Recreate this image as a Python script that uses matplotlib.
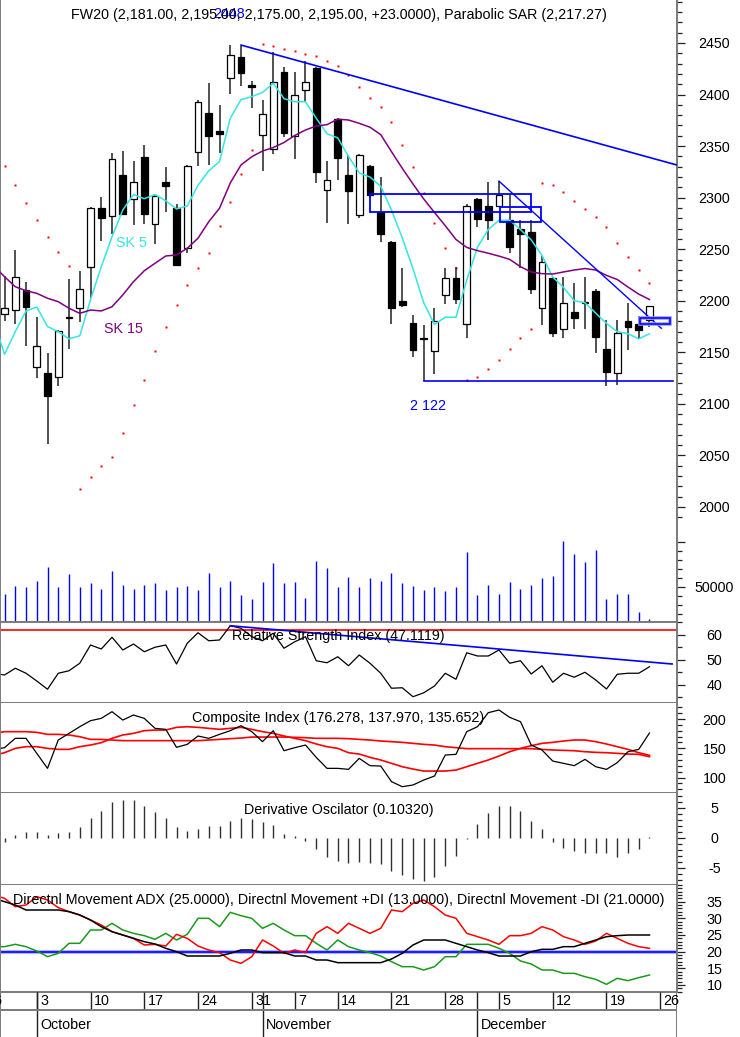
"""FW20 daily chart with SAR, moving averages and four indicator panels."""

import matplotlib

matplotlib.use("Agg")
import matplotlib.pyplot as plt
import numpy as np
from matplotlib.patches import Rectangle

plt.rcParams["font.family"] = ["Liberation Sans", "DejaVu Sans"]
plt.rcParams["font.size"] = 10.3
plt.rcParams["axes.unicode_minus"] = False

# daily candles, 28 Sep - 23 Dec 2022 (trading sessions only)
opens = [2187, 2191, 2210, 2136, 2130, 2126, 2183, 2193, 2233, 2290,
         2282, 2322, 2299, 2339, 2274, 2315, 2290, 2251, 2344, 2382,
         2365, 2416, 2436, 2409, 2361, 2347, 2422, 2360, 2404, 2426,
         2307, 2376, 2322, 2283, 2331, 2286, 2257, 2200, 2178, 2163,
         2151, 2206, 2222, 2177, 2299, 2292, 2292, 2278, 2270, 2267,
         2193, 2222, 2173, 2189, 2198, 2209, 2153, 2130, 2180, 2177,
         2181]
highs = [2224, 2249, 2218, 2184, 2149, 2172, 2221, 2229, 2291, 2301,
         2343, 2345, 2336, 2351, 2303, 2330, 2294, 2332, 2395, 2411,
         2390, 2448, 2447, 2413, 2395, 2441, 2427, 2422, 2433, 2427,
         2336, 2377, 2341, 2342, 2332, 2320, 2258, 2232, 2186, 2176,
         2193, 2232, 2233, 2294, 2300, 2315, 2316, 2303, 2278, 2278,
         2243, 2223, 2223, 2217, 2223, 2211, 2181, 2181, 2198, 2185,
         2195]
lows = [2180, 2177, 2156, 2125, 2061, 2117, 2153, 2179, 2203, 2258,
        2265, 2283, 2273, 2274, 2255, 2286, 2234, 2246, 2331, 2332,
        2343, 2401, 2408, 2387, 2326, 2342, 2359, 2337, 2393, 2314,
        2275, 2317, 2274, 2280, 2300, 2257, 2177, 2194, 2145, 2122,
        2129, 2197, 2197, 2164, 2272, 2259, 2291, 2246, 2232, 2207,
        2176, 2165, 2164, 2173, 2173, 2149, 2117, 2118, 2152, 2163,
        2175]
closes = [2193, 2223, 2194, 2156, 2108, 2171, 2183, 2211, 2290, 2280,
          2337, 2284, 2315, 2284, 2302, 2311, 2235, 2331, 2393, 2360,
          2362, 2438, 2421, 2407, 2381, 2412, 2363, 2400, 2412, 2325,
          2317, 2338, 2306, 2341, 2303, 2265, 2193, 2196, 2152, 2163,
          2180, 2222, 2202, 2292, 2279, 2278, 2303, 2252, 2265, 2211,
          2238, 2169, 2198, 2183, 2199, 2165, 2131, 2169, 2175, 2172,
          2195]
volume = [41800, 50800, 49300, 56400, 72400, 49300, 63800, 49300, 53800, 47400,
          67900, 51900, 47400, 51900, 53800, 46300, 49300, 50800, 46300, 65000,
          49300, 56400, 40700, 36200, 54900, 76900, 53800, 54900, 37700, 78800,
          71300, 49300, 60900, 49300, 59400, 56400, 65700, 53800, 50800, 46300,
          49300, 45200, 49300, 88400, 40700, 51900, 41800, 54900, 47400, 51900,
          59400, 62300, 101500, 86600, 78000, 91000, 36200, 41800, 41800, 22000,
          13500]
sar = [2331, 2312, 2294.5, 2278, 2261.5, 2247.6, 2233.7, 2017, 2029, 2040,
       2048, 2071.4, 2098.9, 2123.1, 2151, 2174.8, 2196.2, 2215, 2231.8, 2246.6,
       2272.8, 2295.8, 2322.9, 2346.2, 2449.3, 2447, 2444.2, 2442, 2439.3, 2437.7,
       2432.8, 2428, 2419, 2407.6, 2396.4, 2387.6, 2373.7, 2351.1, 2330, 2304.8,
       2275.7, 2251, 2232.2, 2123.6, 2125.8, 2133.4, 2143, 2153.5, 2164.3, 2172.4,
       2314.4, 2311.8, 2305.3, 2296.9, 2289.1, 2281.2, 2271.5, 2256.2, 2242.2, 2229.9,
       2217.27]

# line series carry one extra leading session (off the left edge)
sk5 = [2181,
       2148, 2170, 2190, 2194, 2175, 2170, 2163, 2166, 2201, 2233,
       2262, 2288, 2303, 2299, 2303, 2297, 2289, 2292, 2312, 2326,
       2335, 2377, 2395, 2398, 2402, 2411, 2396, 2393, 2393, 2377,
       2362, 2358, 2340, 2324, 2320, 2311, 2288, 2261, 2231, 2198,
       2177, 2184, 2184, 2220, 2252, 2269, 2278, 2278, 2269, 2259,
       2244, 2223, 2213, 2200, 2198, 2188, 2178, 2170, 2168, 2163,
       2168]
sk15 = [2234,
        2223.3, 2213.6, 2209.7, 2207.2, 2202.4, 2199.1, 2192.7, 2187.8, 2191.0, 2190.1,
        2194.2, 2205.6, 2218.5, 2229.1, 2236.3, 2243.4, 2244.4, 2250.9, 2260.6, 2276.7,
        2289.7, 2314.2, 2331.7, 2339.7, 2345.2, 2348.6, 2353.5, 2360.3, 2365.6, 2369.5,
        2370.8, 2376.1, 2375.3, 2372.1, 2368.3, 2361.1, 2344.6, 2328.5, 2313.2, 2298.7,
        2285.6, 2272.8, 2259.4, 2251.7, 2248.6, 2246.1, 2243.3, 2240.1, 2233.0, 2227.9,
        2226.3, 2225.9, 2227.9, 2229.8, 2231.2, 2229.8, 2224.6, 2220.6, 2213.3, 2206.4,
        2201.2]
rsi = [44.5,
       43.8, 46.5, 44.5, 41.4, 38.1, 44.5, 45.5, 48.5, 55.8, 54.2,
       58.9, 53.8, 56.2, 53.1, 54.9, 55.8, 48.2, 56.5, 60.7, 57.5,
       57.8, 63.5, 62.5, 59.1, 57.5, 60.5, 54.5, 57.1, 59.1, 49.5,
       48.7, 51.1, 47.5, 51.8, 48.5, 44.5, 38.5, 38.7, 35.1, 36.7,
       39.4, 44.5, 42.1, 52.7, 51.4, 51.4, 53.8, 48.5, 49.5, 44.2,
       47.5, 40.9, 44.5, 42.9, 44.9, 41.8, 38.2, 44.1, 44.5, 44.5,
       47.1119]
ci = [148.0,
      151.1, 167.1, 167.1, 141.4, 115.7, 164.2, 175.6, 187.0, 197.3, 201.3,
      212.7, 198.4, 207.0, 201.3, 184.2, 182.5, 151.7, 156.8, 171.1, 167.1,
      173.9, 180.2, 188.7, 178.5, 161.4, 180.2, 145.9, 151.1, 155.6, 134.5,
      115.7, 115.7, 114.0, 132.8, 120.3, 119.7, 92.9, 84.3, 87.2, 95.7,
      102.6, 138.5, 139.7, 178.5, 187.0, 211.0, 215.6, 203.0, 195.6, 155.6,
      147.1, 128.2, 124.3, 120.3, 131.1, 118.5, 114.0, 125.4, 144.2, 148.2,
      176.278]
ci_fast = [138.0,
           142.5, 149.9, 152.8, 152.8, 149.9, 148.2, 148.2, 152.8, 155.6, 159.6,
           167.1, 172.8, 175.6, 180.2, 181.3, 181.3, 185.9, 187.0, 185.9, 184.2,
           182.5, 184.2, 185.9, 182.5, 178.5, 175.6, 171.1, 167.1, 163.1, 157.4,
           152.8, 149.9, 142.5, 140.2, 134.5, 130.0, 124.3, 118.5, 114.5, 111.1,
           111.1, 111.1, 112.8, 118.5, 124.3, 130.0, 136.8, 144.2, 149.9, 154.5,
           158.5, 160.2, 162.5, 164.2, 164.2, 161.4, 157.4, 152.8, 148.2, 142.5,
           137.970]
ci_slow = [175.0,
           178.5, 178.5, 178.5, 177.3, 173.9, 173.9, 172.8, 169.9, 165.3, 165.3,
           164.2, 163.1, 163.1, 163.1, 163.1, 163.1, 163.1, 163.1, 163.1, 164.2,
           165.3, 166.5, 167.6, 169.3, 169.3, 169.3, 169.3, 168.8, 168.2, 167.1,
           167.1, 167.1, 166.5, 165.3, 164.2, 162.5, 161.4, 160.2, 158.5, 156.8,
           155.6, 152.8, 151.1, 149.4, 149.4, 149.4, 149.4, 149.4, 149.4, 149.4,
           148.2, 147.1, 146.5, 145.9, 144.2, 143.1, 142.5, 141.4, 140.2, 139.7,
           135.652]
deriv_osc = [-0.8, 0.4, 1.0, 1.0, 0.4, 0.7, 1.0, 1.7, 3.2, 4.5,
             6.0, 6.3, 6.2, 5.2, 4.3, 3.2, 1.7, 1.1, 1.4, 1.9,
             1.9, 2.8, 3.2, 3.1, 2.6, 2.1, 0.6, 0.2, -0.5, -1.9,
             -3.2, -3.9, -4.2, -4.0, -4.2, -4.4, -5.5, -6.2, -6.9, -7.2,
             -6.5, -4.8, -3.1, -0.2, 2.3, 4.1, 5.3, 5.2, 4.5, 2.7,
             1.4, -0.7, -1.8, -2.3, -2.5, -2.5, -2.6, -3.2, -2.5, -1.9,
             0.1032]
adx = [36.0,
       35.0, 34.0, 32.5, 32.5, 32.5, 32.5, 32.0, 31.0, 29.5, 27.5,
       26.0, 25.0, 24.0, 23.0, 22.3, 21.0, 20.0, 18.7, 18.7, 18.7,
       18.7, 19.5, 20.5, 20.5, 19.7, 19.7, 19.7, 18.7, 18.7, 17.5,
       17.5, 16.7, 16.7, 16.7, 16.7, 16.7, 17.8, 19.5, 22.0, 23.5,
       23.5, 23.5, 22.5, 21.5, 20.5, 19.7, 18.7, 18.7, 18.7, 20.0,
       20.7, 20.7, 21.5, 21.5, 22.5, 23.5, 24.5, 24.8, 25.0, 25.0,
       25.0]
plus_di = [21.5,
           21.5, 22.2, 21.5, 20.2, 18.5, 19.5, 22.5, 22.5, 26.5, 26.5,
           28.5, 26.5, 25.5, 24.8, 23.7, 25.5, 23.5, 25.2, 30.0, 30.0,
           27.5, 31.8, 30.8, 30.0, 27.0, 28.5, 26.5, 24.8, 24.8, 22.5,
           20.5, 23.5, 21.5, 20.5, 19.7, 18.7, 17.0, 15.5, 15.5, 14.5,
           15.5, 18.5, 18.5, 22.2, 22.2, 22.2, 21.0, 19.5, 17.2, 16.3,
           14.5, 14.5, 13.5, 13.5, 12.5, 11.7, 10.2, 12.0, 11.3, 12.2,
           13.0]
minus_di = [37.0,
            36.0, 33.5, 34.0, 36.5, 35.5, 33.2, 32.0, 31.0, 29.5, 28.0,
            26.0, 25.0, 24.0, 22.0, 22.2, 21.7, 25.2, 24.0, 21.7, 20.5,
            19.7, 17.5, 16.5, 18.5, 23.5, 21.7, 19.5, 20.5, 19.7, 25.5,
            27.5, 25.5, 28.5, 27.0, 25.5, 27.0, 32.5, 32.0, 34.5, 35.5,
            33.5, 31.0, 30.0, 25.5, 24.5, 23.5, 22.2, 24.8, 24.8, 25.5,
            27.5, 26.5, 24.5, 23.5, 22.2, 23.2, 25.5, 24.0, 22.5, 21.5,
            21.0]

week_ticks = [-2, 3, 8, 13, 18, 23, 27, 31, 36, 41, 46, 51, 56, 61]
week_labels = ["26", "3", "10", "17", "24", "31", "7", "14", "21", "28", "5", "12", "19", "26"]
month_starts = [3, 24, 44]
month_names = ["October", "November", "December"]

# hand-drawn annotations (session index, price)
resistance_line = ([22, 62.6], [2448, 2331.5])
support_line = ([39, 62.2], [2122, 2122])
short_trend = ([46, 61.1], [2316, 2173.3])
zones = [(34.0, 49.0, 2286.4, 2303.5), (46.05, 49.93, 2276.6, 2291.1)]
last_zone = (59.1, 61.9, 2177.0, 2183.6)
rsi_trend = ([21, 62.1], [63.5, 48.2])
rsi_level = 61.8
dmi_level = 20

W, H = 740, 1037
AX_RIGHT = 677
XMIN, XMAX = -0.42, 62.56
FRAME = "#7a7a7a"
TICK = "#202020"
BLUE = "#0000ff"


def add_panel(fig, top, bottom):
    ax = fig.add_axes([0, (H - bottom) / H, AX_RIGHT / W, (bottom - top) / H])
    ax.set_xlim(XMIN, XMAX)
    ax.set_xticks([])
    ax.spines["top"].set_visible(False)
    for side in ("left", "right", "bottom"):
        ax.spines[side].set_color(FRAME)
        ax.spines[side].set_linewidth(1.4)
    return ax


def right_scale(ax, major, minor, labels=None):
    ax.yaxis.tick_right()
    ax.set_yticks(major)
    ax.set_yticks(minor, minor=True)
    if labels is not None:
        ax.set_yticklabels(labels)
    ax.tick_params(axis="y", which="major", length=6, width=0.9, pad=21, color=TICK)
    ax.tick_params(axis="y", which="minor", length=3.5, width=0.9, color=TICK)
    for lab in ax.get_yticklabels():
        lab.set_horizontalalignment("center")


def panel_label(ax, text, top_px, bottom_px, offset=15):
    ax.text(0.5, 1 - offset / (bottom_px - top_px), text, transform=ax.transAxes,
            ha="center", va="center", zorder=6)


def main():
    fig = plt.figure(figsize=(W / 100, H / 100), dpi=100)
    x = np.arange(len(closes))
    xl = np.arange(-1, len(closes))

    # ---- price + volume
    ax = add_panel(fig, 0, 622)
    ax.set_ylim(1888.4, 2491.7)
    vol_ax = ax.twinx()
    vol_lo = 10500
    vol_ax.set_ylim(vol_lo, 706300)
    for s in vol_ax.spines.values():
        s.set_visible(False)
    vol_ax.vlines(x, vol_lo, volume, color=BLUE, lw=1.0)
    right_scale(vol_ax, [50000, 100000], np.arange(20000, 100000, 10000), ["50000", ""])
    right_scale(ax, np.arange(2000, 2451, 50), np.arange(1990, 2491, 10))
    ax.set_zorder(vol_ax.get_zorder() + 1)
    ax.patch.set_visible(False)

    o, h, lo, c = map(np.asarray, (opens, highs, lows, closes))
    ax.vlines(x, lo, h, color="#222222", lw=1.1, zorder=3)
    up = c >= o
    body_lo = np.minimum(o, c)
    body_h = np.maximum(np.abs(c - o), 1.2)
    ax.bar(x, body_h, bottom=body_lo, width=0.62, color=np.where(up, "white", "black"),
           edgecolor="black", lw=0.9, zorder=4)

    ax.plot(x, sar, ls="none", marker="s", ms=1.7, color="#ff0000", mec="none", zorder=2)
    ax.plot(xl, sk5, color="#33e6e6", lw=1.1, zorder=5)
    ax.plot(xl, sk15, color="#800080", lw=1.1, zorder=5)
    ax.text(11.8, 2256, "SK 5", color="#33e6e6", ha="center", va="center")
    ax.text(11.05, 2172.6, "SK 15", color="#800080", ha="center", va="center")

    ax.plot(*resistance_line, color=BLUE, lw=1.2, zorder=5)
    ax.plot(*support_line, color=BLUE, lw=1.2, zorder=5)
    ax.plot(*short_trend, color=BLUE, lw=1.0, zorder=5)
    for x0, x1, y0, y1 in zones:
        ax.add_patch(Rectangle((x0, y0), x1 - x0, y1 - y0, fill=False, ec=BLUE, lw=1.3, zorder=5))
    x0, x1, y0, y1 = last_zone
    ax.add_patch(Rectangle((x0, y0), x1 - x0, y1 - y0, fill=False, ec="#9999ff", lw=2.6, zorder=5))
    ax.add_patch(Rectangle((x0, y0), x1 - x0, y1 - y0, fill=False, ec=BLUE, lw=1.1, zorder=5))

    top_bar = int(np.argmax(highs))
    ax.annotate(f"{highs[top_bar]:.0f}", xy=(top_bar, highs[top_bar]), xytext=(-1.5, 31),
                textcoords="offset pixels", ha="center", va="center", color=BLUE)
    low_bar = 39
    ax.annotate(f"{lows[low_bar] // 1000:.0f} {lows[low_bar] % 1000:03.0f}", xy=(low_bar, lows[low_bar]),
                xytext=(4, -25), textcoords="offset pixels", ha="center", va="center", color=BLUE)

    change = closes[-1] - closes[-2]
    title = (f"FW20 ({opens[-1]:,.2f}, {highs[-1]:,.2f}, {lows[-1]:,.2f}, {closes[-1]:,.2f}, "
             f"{change:+.4f}), Parabolic SAR ({sar[-1]:,.2f})")
    panel_label(ax, title, 0, 622)

    # ---- RSI
    ax = add_panel(fig, 622, 703)
    ax.set_ylim(32.6, 65)
    right_scale(ax, [40, 50, 60], [35, 45, 55, 65])
    ax.axhline(rsi_level, color="#ff0000", lw=1.2)
    ax.plot(xl, rsi, color="black", lw=0.9)
    ax.plot(*rsi_trend, color=BLUE, lw=1.2)
    panel_label(ax, f"Relative Strength Index ({rsi[-1]:.4f})", 622, 703, 14)

    # ---- Composite index
    ax = add_panel(fig, 703, 793)
    ax.set_ylim(73.5, 227.6)
    right_scale(ax, [100, 150, 200], np.arange(80, 230, 10))
    ax.plot(xl, ci_slow, color="#ff0000", lw=1.2)
    ax.plot(xl, ci_fast, color="#ff0000", lw=1.2)
    ax.plot(xl, ci, color="black", lw=0.9)
    panel_label(ax, f"Composite Index ({ci[-1]:.3f}, {ci_fast[-1]:.3f}, {ci_slow[-1]:.3f})", 703, 793)

    # ---- Derivative oscillator
    ax = add_panel(fig, 793, 885)
    ax.set_ylim(-7.9, 7.45)
    right_scale(ax, [-5, 0, 5], np.arange(-7, 8))
    ax.vlines(x, 0, deriv_osc, color="#303030", lw=1.0)
    panel_label(ax, f"Derivative Oscilator ({deriv_osc[-1]:.5f})", 793, 885, 17)

    # ---- Directional movement
    ax = add_panel(fig, 885, 992)
    ax.set_ylim(7.9, 40)
    right_scale(ax, np.arange(10, 36, 5), np.arange(8, 41))
    ax.axhline(dmi_level, color="#b0b0ff", lw=3.0)
    ax.axhline(dmi_level, color=BLUE, lw=1.2)
    ax.plot(xl, plus_di, color="#1a9a1a", lw=1.1)
    ax.plot(xl, minus_di, color="#ff0000", lw=1.1)
    ax.plot(xl, adx, color="black", lw=1.1)
    panel_label(ax, f"Directnl Movement ADX ({adx[-1]:.4f}), Directnl Movement +DI ({plus_di[-1]:.4f}), "
                    f"Directnl Movement -DI ({minus_di[-1]:.4f})", 885, 992)

    # ---- date axis
    axd = fig.add_axes([0, 0, AX_RIGHT / W, 45 / H])
    axd.set_xlim(XMIN, XMAX)
    axd.set_ylim(0, 2)
    axd.axis("off")
    axd.vlines(week_ticks, 1.2, 2, color=TICK, lw=1.0)
    axd.vlines(month_starts, 0, 2, color=TICK, lw=1.0)
    axd.axhline(1.2, color=FRAME, lw=1.4)
    axd.vlines([XMIN, XMAX], 0, 2, color=FRAME, lw=1.4)
    for t, lab in zip(week_ticks, week_labels):
        axd.text(t + 0.3, 1.6, lab, ha="left", va="center", clip_on=False)
    for m, name in zip(month_starts, month_names):
        axd.text(m + 0.3, 0.55, name, ha="left", va="center")

    fig.savefig("out.png", dpi=100)
    plt.close(fig)


if __name__ == "__main__":
    main()
